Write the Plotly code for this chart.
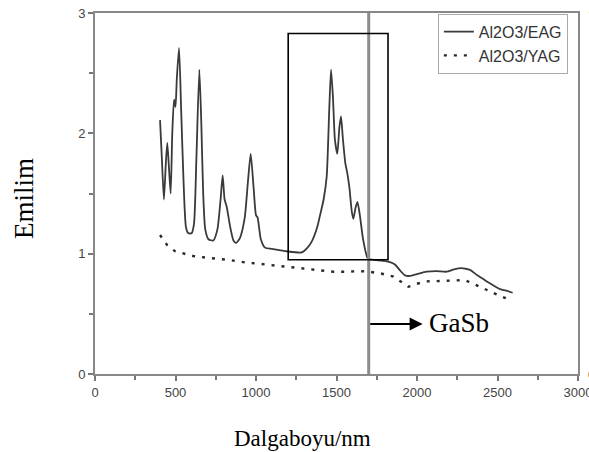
import plotly.graph_objects as go

# Al2O3/EAG emission curve (wavelength nm, emission)
eag_x = [404, 415, 428, 440, 449, 460, 470, 480, 491, 500, 508, 522, 535, 550, 565, 580, 600, 615, 630, 648,
         660, 672, 685, 705, 735, 760, 780, 793, 805, 818, 840, 860, 876, 900, 930, 950, 967, 985, 1000, 1010,
         1030, 1056, 1100, 1190, 1284, 1320, 1346, 1380, 1398, 1420, 1439, 1455, 1466, 1478, 1490, 1505, 1518,
         1528, 1540, 1555, 1567, 1580, 1595, 1605, 1618, 1630, 1645, 1665, 1694, 1720, 1790, 1832, 1863, 1895,
         1925, 1957, 2000, 2060, 2120, 2184, 2230, 2277, 2300, 2329, 2375, 2422, 2470, 2516, 2560, 2594]
eag_y = [2.11, 1.80, 1.45, 1.75, 1.92, 1.70, 1.50, 2.00, 2.28, 2.22, 2.45, 2.71, 2.20, 1.60, 1.22, 1.17, 1.17, 1.25, 1.80, 2.53,
         2.10, 1.50, 1.20, 1.12, 1.11, 1.20, 1.45, 1.65, 1.45, 1.39, 1.22, 1.11, 1.09, 1.13, 1.30, 1.60, 1.83, 1.55, 1.32, 1.30,
         1.12, 1.05, 1.04, 1.02, 1.01, 1.05, 1.10, 1.22, 1.32, 1.45, 1.64, 2.20, 2.53, 2.30, 1.95, 1.83, 2.05,
         2.14, 1.95, 1.75, 1.67, 1.55, 1.35, 1.29, 1.38, 1.43, 1.32, 1.12, 0.96, 0.95, 0.94, 0.93, 0.91, 0.86,
         0.82, 0.815, 0.83, 0.85, 0.855, 0.85, 0.87, 0.88, 0.875, 0.865, 0.82, 0.78, 0.74, 0.705, 0.69, 0.675]

# Al2O3/YAG emission curve
yag_x = [404, 449, 497, 550, 611, 700, 818, 920, 1025, 1130, 1232, 1300, 1366, 1420, 1480, 1560, 1646, 1700,
         1770, 1853, 1900, 1946, 2000, 2060, 2120, 2184, 2240, 2298, 2350, 2412, 2460, 2505, 2550, 2588]
yag_y = [1.155, 1.07, 1.02, 1.00, 0.98, 0.965, 0.95, 0.93, 0.915, 0.90, 0.89, 0.88, 0.87, 0.86, 0.85, 0.85, 0.855, 0.85,
         0.837, 0.81, 0.77, 0.725, 0.75, 0.77, 0.772, 0.775, 0.778, 0.78, 0.75, 0.71, 0.685, 0.655, 0.63, 0.60]

x_ticks = [0, 500, 1000, 1500, 2000, 2500, 3000]
y_ticks = [0, 1, 2, 3]

gasb_line_x = 1700
box_x = [1200, 1820]
box_y = [0.95, 2.83]

fig = go.Figure()
fig.add_trace(go.Scatter(x=eag_x, y=eag_y, mode="lines", name="Al2O3/EAG",
                         line=dict(color="#3a3a3a", width=1.8, shape="spline", smoothing=0.6)))
fig.add_trace(go.Scatter(x=yag_x, y=yag_y, mode="lines", name="Al2O3/YAG",
                         line=dict(color="#2a2a2a", width=2.4, dash="3px,7px")))

# GaSb vertical line and box
fig.add_shape(type="line", x0=gasb_line_x, x1=gasb_line_x, y0=0, y1=3, xref="x", yref="y",
              line=dict(color="#8c8c8c", width=3))
fig.add_shape(type="rect", x0=box_x[0], x1=box_x[1], y0=box_y[0], y1=box_y[1], xref="x", yref="y",
              line=dict(color="black", width=1.6))

# Arrow and GaSb label
fig.add_annotation(x=2035, y=0.415, ax=gasb_line_x, ay=0.415, xref="x", yref="y", axref="x", ayref="y",
                   text="", showarrow=True, arrowhead=2, arrowsize=1.3, arrowwidth=2, arrowcolor="black")
fig.add_annotation(x=2060, y=0.42, xref="x", yref="y", text="GaSb", showarrow=False,
                   xanchor="left", yanchor="middle",
                   font=dict(family="Liberation Serif", size=27, color="black"))

# axis titles
fig.add_annotation(x=-0.147, y=0.4875, xref="paper", yref="paper", text="Emilim", showarrow=False,
                   textangle=-90, xanchor="center", yanchor="middle",
                   font=dict(family="Liberation Serif", size=27, color="black"))
fig.add_annotation(x=0.43, y=-0.178, xref="paper", yref="paper", text="Dalgaboyu/nm", showarrow=False,
                   xanchor="center", yanchor="middle",
                   font=dict(family="Liberation Serif", size=23, color="black"))

# clipped right-side tick labels
fig.add_annotation(x=1.016, y=1.012, xref="paper", yref="paper", text="1", showarrow=False,
                   xanchor="left", yanchor="middle", font=dict(family="Arial", size=13, color="#444"))
fig.add_annotation(x=1.016, y=0.0, xref="paper", yref="paper", text="0", showarrow=False,
                   xanchor="left", yanchor="middle", font=dict(family="Arial", size=13, color="#444"))

axis_common = dict(showgrid=False, zeroline=False, showline=True, linecolor="#888888", linewidth=2,
                   mirror=True, ticks="outside", ticklen=5, tickwidth=1.5, tickcolor="#777777",
                   tickfont=dict(family="Arial", size=13, color="#444444"), ticklabeloverflow="allow",
                   automargin=False)

fig.update_xaxes(range=[0, 3000], tickvals=x_ticks, ticktext=[str(v) for v in x_ticks],
                 minor=dict(dtick=250, ticks="outside", ticklen=4, tickcolor="#777777", tickwidth=1.5),
                 **axis_common)
fig.update_yaxes(range=[0, 3], tickvals=y_ticks, ticktext=[str(v) for v in y_ticks],
                 minor=dict(dtick=0.5, ticks="outside", ticklen=4, tickcolor="#777777", tickwidth=1.5),
                 **axis_common)

fig.update_layout(
    width=589, height=452,
    margin=dict(l=95, r=11, t=13, b=78, autoexpand=False),
    paper_bgcolor="white", plot_bgcolor="white",
    showlegend=True,
    legend=dict(x=0.979, y=0.998, xanchor="right", yanchor="top",
                bgcolor="white", bordercolor="#aaaaaa", borderwidth=1,
                font=dict(family="Arial", size=16, color="#333333"),
                tracegroupgap=0, itemwidth=30),
)

fig.write_html("out.html")
